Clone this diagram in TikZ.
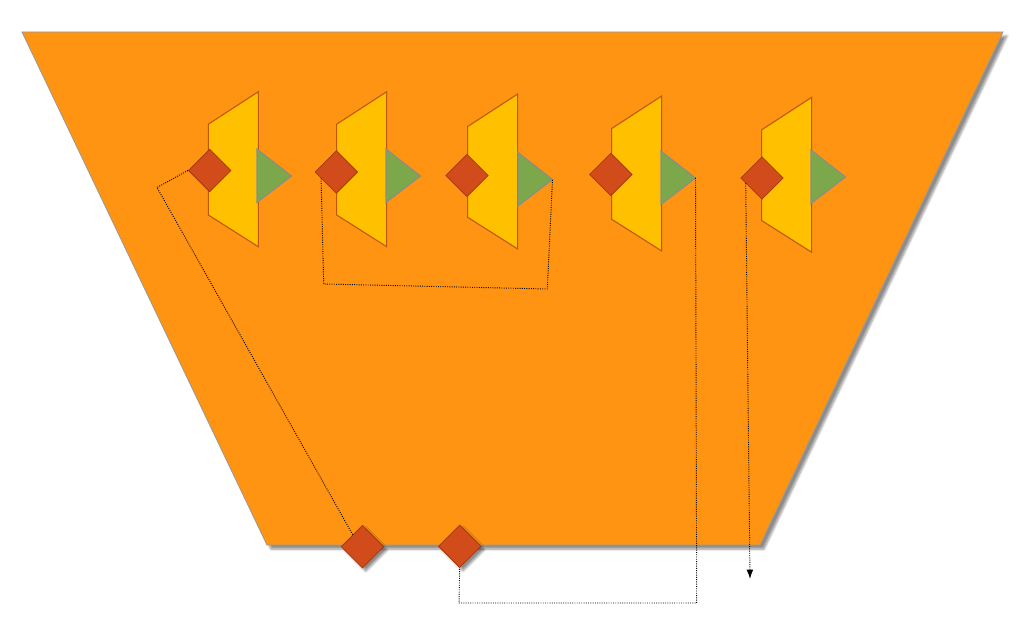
\documentclass[tikz,border=0pt]{standalone}
\usetikzlibrary{shapes.geometric,arrows.meta,calc,shadows.blur}
\definecolor{bgorange}{HTML}{FF9312}
\definecolor{compyellow}{HTML}{FFC000}
\definecolor{yedge}{HTML}{C0560F}
\definecolor{portred}{HTML}{D24B1A}
\definecolor{redge}{HTML}{A33A10}
\definecolor{portgreen}{HTML}{7DA74B}
\definecolor{gedge}{HTML}{8C8C8C}
\tikzset{
  bodyshape/.style={fill=bgorange,draw=gray!80,line width=0.6pt,
    blur shadow={shadow xshift=3pt,shadow yshift=-3pt,shadow blur steps=6,shadow opacity=45}},
  compbody/.style={fill=compyellow,draw=yedge,line width=0.8pt},
  outport/.style={fill=portgreen,draw=gedge,line width=0.8pt},
  inport/.style={diamond,fill=portred,draw=redge,line width=0.6pt,inner sep=0pt,
    minimum width=32pt,minimum height=32pt},
  extport/.style={inport,
    blur shadow={shadow xshift=2.5pt,shadow yshift=-2.5pt,shadow blur steps=5,shadow opacity=45}},
  wire/.style={densely dotted,black,line width=0.7pt},
}
\begin{document}
\begin{tikzpicture}[x=0.75pt,y=-0.75pt]
\useasboundingbox (0,0) rectangle (1023,623);
% outer body
\draw[bodyshape] (22,32) -- (1003,32) -- (760,545) -- (267,545) -- cycle;
% components
\foreach \i/\L/\T/\dx/\dy/\gx/\gt in {
  1/208.3/91.7/209.7/170.5/257/149,
  2/336.7/91.7/336.3/172/386/149,
  3/467.7/94/467/175.5/518/152.5,
  4/611.7/96/610.8/174.5/661/151,
  5/761.7/97.3/762/178/811/150}{
  \draw[compbody] (\L,\T+32.5) -- (\L+50,\T) -- (\L+50,\T+155) -- (\L,\T+123.3) -- cycle;
  \draw[outport] (\gx,\gt) -- (\gx+34.5,\gt+27) -- (\gx,\gt+53.5) -- cycle;
  \coordinate (g\i) at (\gx+34.5,\gt+27);
  \node[inport] (d\i) at (\dx,\dy) {};
}
% external ports
\node[extport] (b1) at (362.5,546.7) {};
\node[extport] (b2) at (459.7,546.3) {};
% bend points
\coordinate (k1) at (157,187.5);
\coordinate (k2a) at (323.7,284);
\coordinate (k2b) at (547.3,289);
\coordinate (k3a) at (696.7,603);
\coordinate (k3b) at (459,603);
\coordinate (k4) at (750,579);
% connectors
\draw[wire] (d1.west) -- (k1) -- ($(b1.west)!0.55!(b1.north)$);
\draw[wire] ($(d2.west)!0.3!(d2.south)$) -- (k2a) -- (k2b) -- (g3);
\draw[wire] (g4) -- (k3a) -- (k3b) -- (b2.south);
\draw[wire,-{Latex[length=7pt,width=5pt]}] ($(d5.west)!0.25!(d5.south)$) -- (k4);
\end{tikzpicture}
\end{document}
